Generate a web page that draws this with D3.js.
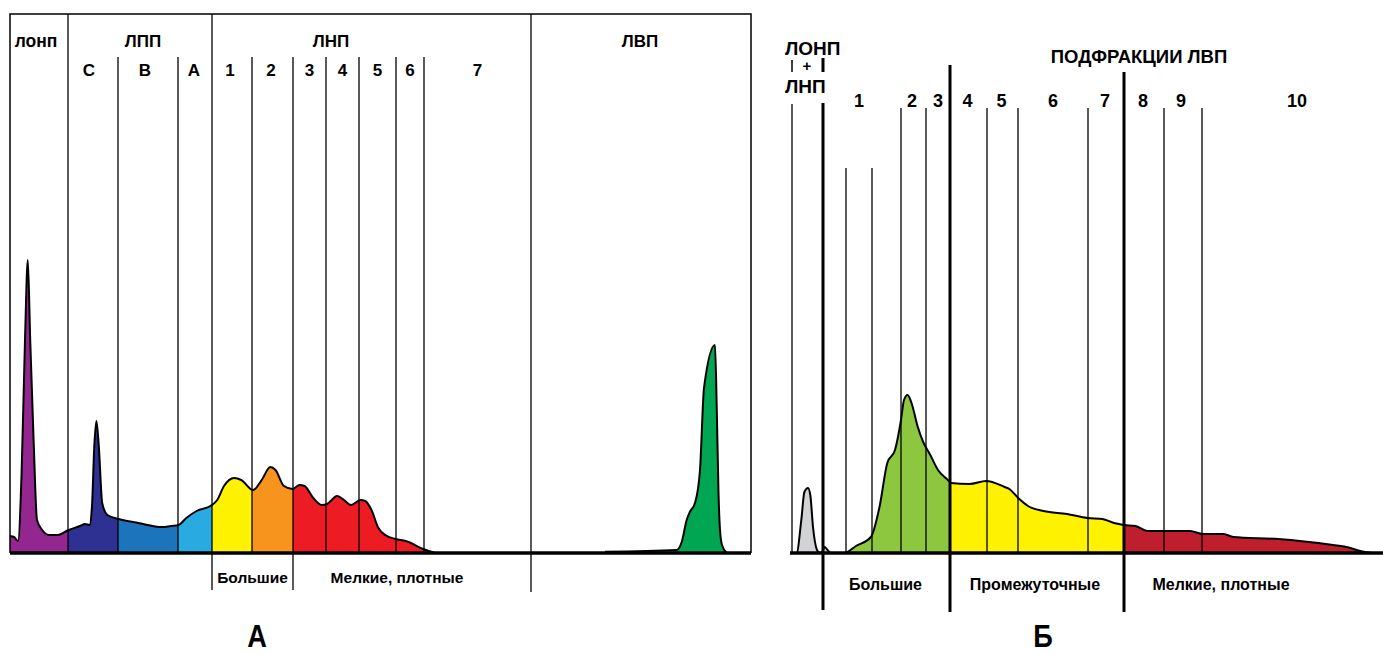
<!DOCTYPE html>
<html>
<head>
<meta charset="utf-8">
<script src="https://cdn.jsdelivr.net/npm/d3@7/dist/d3.min.js"></script>
<style>
body { margin: 0; background: #fff; }
text { font-family: "Liberation Sans", Arial, Helvetica, sans-serif; font-weight: bold; fill: #000; }
</style>
</head>
<body>
<script>
// ---------- panel A : lipoproteins (x = distance from left border, y = height above baseline)
var profileA = [[0,17],[4,16],[8,12],[11.6,80],[15,213],[17.8,293],[20.2,213],[23.6,113],[27,33],[32.2,23],
	[39,18],[47.6,18],[58.6,23],[70,27],[75,29],[79.5,28],[82,47],[84.3,107],[86.4,132],[88.8,107],[92.2,50],
	[97.4,38],[108.7,34],[128.2,30],[152.3,26],[160.8,27],[168.4,28],[176.3,35],[186.6,42],[202,48],[207.2,53],
	[214,67],[224.3,75],[231.2,73],[243.2,63],[251.7,73],[260.3,86],[265.5,83],[274,67],[282.6,64],[289.5,68],
	[294.6,67],[303.2,55],[311.8,48],[317,49],[327.2,57],[334,53],[341,48],[350.5,53],[355.3,52],[361.5,43],
	[368.4,25],[375.2,18],[385.5,14],[395.8,12],[413,4],[425,0]];
var hdlA = [[595,1.3],[666.7,3],[671.7,11],[676.7,33],[680,41.3],[685,50],[690,83],[694,165],[705,208],
	[706.7,147],[708.5,60],[710,23],[712,8],[716.7,0]];
var bandEdgesA = [0,58,108,168,202,242,283,741];
var bandColorsA = ["#93278F","#2E3192","#1C75BC","#29ABE2","#FFF200","#F7941D","#ED1C24"];
var classesA = ["лонп","ЛПП","ЛНП","ЛВП"];
var classPosA = [26,133,321,630];
var subA = ["C","B","A","1","2","3","4","5","6","7"];
var subPosA = [79,135,184,220,261,299.5,332.5,367.5,400,467.5];
var sizeA = ["Большие","Мелкие, плотные"];
var sizePosA = [242.5,387];

// ---------- panel B : HDL subfractions
var profileB = [[0,0],[6.6,0],[11.3,33],[14.4,61],[18,65],[20.3,58],[23,26],[27,3],[30,0],[32,1],[34.7,6],
	[37.5,3],[40.6,0],[54.3,0],[66,7],[80.9,16],[89.5,46],[97.3,90],[105,103],[111,133],[114,153],[117.6,158],
	[121.5,150],[127.8,126],[133.2,111],[140.3,98],[148,83],[157.9,73],[161,70],[179.4,69],[196.2,72],
	[214.6,66],[219.3,64],[228.2,55],[238,47],[253.6,42],[277,39],[297.4,35],[312.3,34],[324,30],[333.8,28],
	[345.5,27],[357.3,22],[374,22],[400.2,22],[412.8,19],[433.5,19],[443.3,16],[488.2,14],[543,8],[556.6,6],
	[570.3,2],[582,0]];
var bandEdgesB = [0,45,160,334,593];
var bandColorsB = ["#D1D3D4","#8DC63F","#FFF200","#BE1E2D"];
var subB = ["1","2","3","4","5","6","7","8","9","10"];
var subPosB = [69,122,148,177.5,211.5,263,315,353,391,507];
var sizeB = ["Большие","Промежуточные","Мелкие, плотные"];
var sizePosB = [95.5,245,431];

var svg = d3.select("body")
	.append("svg")
	.attr("width", 1383)
	.attr("height", 654);

var yS = d3.scaleLinear().domain([0, 539]).range([553, 14]);
var xA = d3.scaleLinear().domain([0, 741]).range([10, 751]);
var xB = d3.scaleLinear().domain([0, 593]).range([790, 1383]);

function drawBands(prefix, xs, data, edges, colors){
	var area = d3.area()
		.x(function(d){ return xs(d[0]); })
		.y0(yS(0))
		.y1(function(d){ return yS(d[1]); })
		.curve(d3.curveMonotoneX);
	for (var i=0;i<colors.length;i++){
		svg.append("clipPath").attr("id", prefix + i)
			.append("rect")
			.attr("x", xs(edges[i]))
			.attr("y", 0)
			.attr("width", xs(edges[i+1]) - xs(edges[i]))
			.attr("height", 654);
		svg.append("path")
			.datum(data)
			.attr("d", area)
			.attr("fill", colors[i])
			.attr("clip-path", "url(#" + prefix + i + ")");
	}
}

function outline(xs, data, curve){
	svg.append("path")
		.datum(data)
		.attr("d", d3.line()
			.x(function(d){ return xs(d[0]); })
			.y(function(d){ return yS(d[1]); })
			.curve(curve))
		.attr("fill", "none")
		.attr("stroke", "#000")
		.attr("stroke-width", 2)
		.attr("stroke-linejoin", "round");
}

function vline(xs, x, top, bottom, w){
	svg.append("line")
		.attr("x1", xs(x)).attr("x2", xs(x))
		.attr("y1", yS(top)).attr("y2", yS(bottom))
		.attr("stroke", "#000")
		.attr("stroke-width", w);
}

function label(x, y, txt, size){
	svg.append("text")
		.attr("x", x)
		.attr("y", y)
		.attr("text-anchor", "middle")
		.attr("font-size", size)
		.text(txt);
}

// ===== panel A
drawBands("cA", xA, profileA, bandEdgesA, bandColorsA);
// green HDL peak
svg.append("path")
	.datum(hdlA)
	.attr("d", d3.area().x(function(d){ return xA(d[0]); }).y0(yS(0)).y1(function(d){ return yS(d[1]); }).curve(d3.curveMonotoneX))
	.attr("fill", "#00A651");

// fraction borders
vline(xA, 58, 539, 0, 1.3);
vline(xA, 202, 539, -37, 1.3);
vline(xA, 521, 539, -39, 1.3);
[108,168,242,316,349,386,414].forEach(function(x){ vline(xA, x, 496, 0, 1.3); });
vline(xA, 283, 496, -37, 1.3);

outline(xA, profileA, d3.curveMonotoneX);
outline(xA, hdlA, d3.curveMonotoneX);

// box
svg.append("path")
	.attr("d", "M" + xA(0) + "," + yS(0) + "V" + yS(539) + "H" + xA(741) + "V" + yS(0))
	.attr("fill", "none")
	.attr("stroke", "#000")
	.attr("stroke-width", 1.5);
svg.append("line")
	.attr("x1", xA(0)).attr("x2", xA(741))
	.attr("y1", yS(0)).attr("y2", yS(0))
	.attr("stroke", "#000").attr("stroke-width", 3.5);

classesA.forEach(function(c, i){ label(xA(classPosA[i]), 46.5, c, i == 0 ? 17.5 : 17); });
subA.forEach(function(c, i){ label(xA(subPosA[i]), 76, c, 17); });
sizeA.forEach(function(c, i){ label(xA(sizePosA[i]), 583, c, 15.5); });

// ===== panel B
drawBands("cB", xB, profileB, bandEdgesB, bandColorsB);

[56,82].forEach(function(x){ vline(xB, x, 385, 0, 1.3); });
[111,136,197,228,298,374,412].forEach(function(x){ vline(xB, x, 445, 0, 1.3); });
vline(xB, 2, 493, 481, 1.5);
vline(xB, 2, 449, 0, 1.3);
vline(xB, 33, 495, 481, 3);
vline(xB, 33, 450, -57, 3);
vline(xB, 160, 488, -59, 3);
vline(xB, 334, 481, -59, 3);

outline(xB, profileB, d3.curveMonotoneX);

svg.append("line")
	.attr("x1", xB(0)).attr("x2", xB(593))
	.attr("y1", yS(0)).attr("y2", yS(0))
	.attr("stroke", "#000").attr("stroke-width", 3.5);

svg.append("text").attr("x", 785).attr("y", 55).attr("font-size", 19).text("ЛОНП");
svg.append("text").attr("x", 807).attr("y", 71).attr("text-anchor", "middle").attr("font-size", 15).text("+");
svg.append("text").attr("x", 785).attr("y", 93).attr("font-size", 19).text("ЛНП");
label(1139, 63, "ПОДФРАКЦИИ ЛВП", 18.5);
subB.forEach(function(c, i){ label(xB(subPosB[i]), 107, c, 18); });
sizeB.forEach(function(c, i){ label(xB(sizePosB[i]), 590, c, 16); });

// panel letters
svg.append("text").attr("x", 257).attr("y", 647).attr("text-anchor", "middle")
	.attr("font-size", 32).attr("transform", "translate(257,0) scale(0.85,1) translate(-257,0)").text("А");
svg.append("text").attr("x", 1043).attr("y", 647).attr("text-anchor", "middle")
	.attr("font-size", 32).attr("transform", "translate(1043,0) scale(0.85,1) translate(-1043,0)").text("Б");
</script>
</body>
</html>
